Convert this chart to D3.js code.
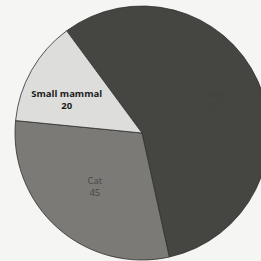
<!DOCTYPE html>
<html><head><meta charset="utf-8">
<script src="https://cdn.jsdelivr.net/npm/d3@7"></script>
<style>html,body{margin:0;padding:0;background:#f5f5f4;}svg{display:block;}</style>
</head><body>
<svg id="c" width="261" height="261"></svg>
<script>
const categories = ["Dog", "Cat", "Small mammal"];
const values = [85, 45, 20];

const W = 261, H = 261, cx = 142, cy = 133, R = 127;
const fills = ["#454542", "#7b7a77", "#dddddb"];
const labelFills = ["#434340", "#474745", "#1a1a1a"];
const labelWeights = ["normal", "normal", "bold"];
const labelRadii = [80, 71, 82];
const labelShift = [[0, 0], [0, 0], [-4, 7]];

const svg = d3.select("#c");
svg.append("rect").attr("width", W).attr("height", H).attr("fill", "#f5f5f4");
const g = svg.append("g").attr("transform", `translate(${cx},${cy})`);

const start = -36.4 * Math.PI / 180;
const pie = d3.pie().sort(null).value(d => d.v).startAngle(start).endAngle(start + 2 * Math.PI);
const data = categories.map((c, i) => ({c, v: values[i], i}));
const arcs = pie(data);
const arc = d3.arc().innerRadius(0).outerRadius(R);

g.selectAll("path").data(arcs).join("path")
  .attr("d", arc)
  .attr("fill", d => fills[d.data.i])
  .attr("stroke", "#2e2e2c")
  .attr("stroke-width", 0.8);

const lg = g.selectAll("g.lbl").data(arcs).join("g").attr("class", "lbl")
  .attr("transform", d => {
    const r = labelRadii[d.data.i];
    const [x, y] = d3.arc().innerRadius(r).outerRadius(r).centroid(d);
    const [sx, sy] = labelShift[d.data.i];
    return `translate(${x + sx},${y + sy})`;
  })
  .attr("font-family", "'Open Sans', 'DejaVu Sans', sans-serif")
  .attr("font-size", 9.5)
  .attr("text-anchor", "middle")
  .attr("font-weight", d => labelWeights[d.data.i])
  .attr("fill", d => labelFills[d.data.i]);
lg.append("text").attr("y", -2).text(d => d.data.c);
lg.append("text").attr("y", 10).text(d => d.data.v);
</script>
</body></html>
